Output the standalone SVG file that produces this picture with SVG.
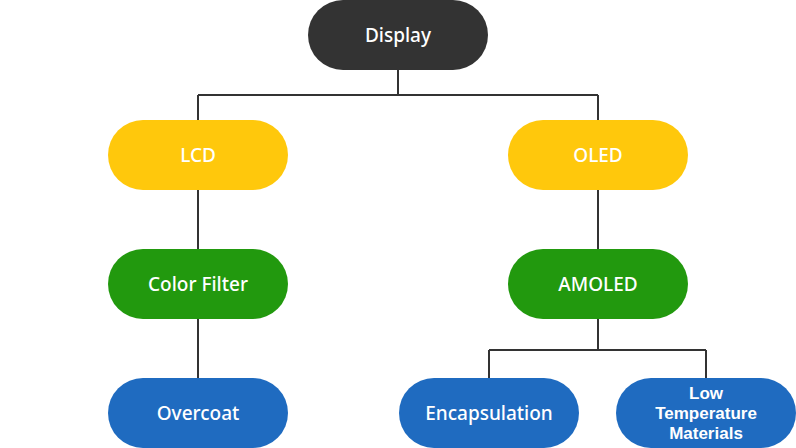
<svg xmlns="http://www.w3.org/2000/svg" width="796" height="448" viewBox="0 0 796 448">
<style>
.t{font-family:"Noto Sans","Open Sans",sans-serif;font-size:19px;font-weight:500;fill:#fff;text-anchor:middle;dominant-baseline:central}
.s{font-family:"Liberation Sans",Arial,sans-serif;font-size:17px;font-weight:bold}
.c{fill:none;stroke:#333;stroke-width:2}
</style>
<rect width="796" height="448" fill="#fff"/>
<g id="connectors">
<path class="c" d="M398 70V95M198 95H598M198 95V120M598 95V120"/>
<path class="c" d="M198 190V249M198 319V378"/>
<path class="c" d="M598 190V249M598 319V350M489 350H706M489 350V378M706 350V378"/>
</g>
<g id="display"><rect x="308" y="0" width="180" height="70" rx="35" fill="#333"/><text class="t" x="398" y="35">Display</text></g>
<g id="lcd"><rect x="108" y="120" width="180" height="70" rx="35" fill="#FFC80C"/><text class="t" x="198" y="155">LCD</text></g>
<g id="oled"><rect x="508" y="120" width="180" height="70" rx="35" fill="#FFC80C"/><text class="t" x="598" y="155">OLED</text></g>
<g id="colorfilter"><rect x="108" y="249" width="180" height="70" rx="35" fill="#22990E"/><text class="t" x="198" y="284">Color Filter</text></g>
<g id="amoled"><rect x="508" y="249" width="180" height="70" rx="35" fill="#22990E"/><text class="t" x="598" y="284">AMOLED</text></g>
<g id="overcoat"><rect x="108" y="378" width="180" height="70" rx="35" fill="#1F6BC0"/><text class="t" x="198" y="413">Overcoat</text></g>
<g id="encapsulation"><rect x="399" y="378" width="180" height="70" rx="35" fill="#1F6BC0"/><text class="t" x="489" y="413">Encapsulation</text></g>
<g id="lowtemp"><rect x="616" y="378" width="180" height="70" rx="35" fill="#1F6BC0"/><text class="t s" x="706" y="393"><tspan x="706" y="393">Low</tspan><tspan x="706" y="413">Temperature</tspan><tspan x="706" y="433">Materials</tspan></text></g>
</svg>
